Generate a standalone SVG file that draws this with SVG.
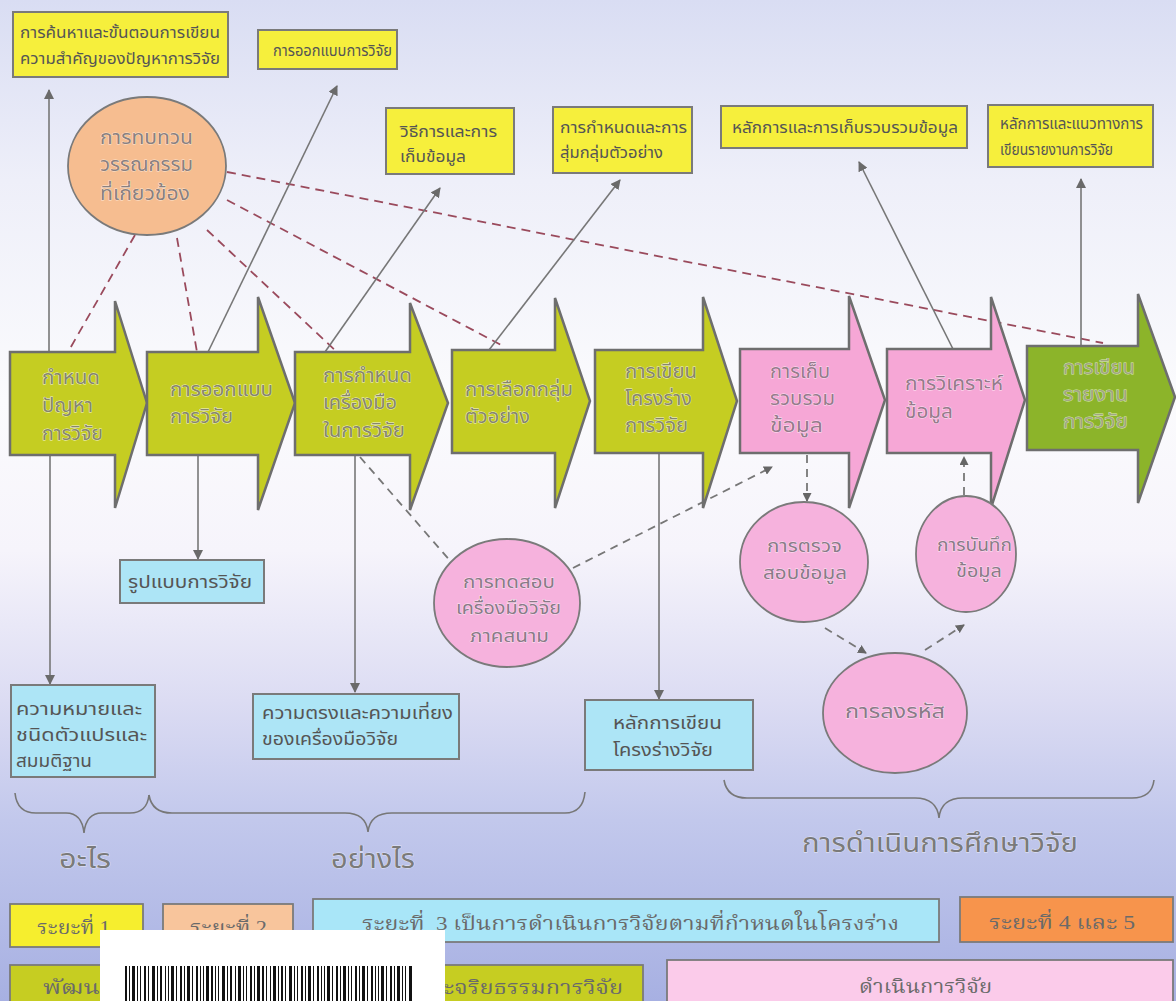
<svg xmlns="http://www.w3.org/2000/svg" width="1176" height="1001" viewBox="0 0 1176 1001">
<defs>
<linearGradient id="bg" x1="0" y1="0" x2="0" y2="1">
<stop offset="0" stop-color="#d9ddf3"/>
<stop offset="0.18" stop-color="#eeeff9"/>
<stop offset="0.4" stop-color="#fbfbfd"/>
<stop offset="0.55" stop-color="#f6f4fb"/>
<stop offset="0.7" stop-color="#dcdcf3"/>
<stop offset="0.82" stop-color="#c2c8ec"/>
<stop offset="1" stop-color="#a7b0e2"/>
</linearGradient>
<marker id="ah" markerWidth="10" markerHeight="10" refX="9" refY="5" orient="auto" markerUnits="userSpaceOnUse">
<path d="M0,0 L10,5 L0,10 z" fill="#6a6a6a"/>
</marker>
<marker id="ahs" markerWidth="9" markerHeight="9" refX="8" refY="4.5" orient="auto" markerUnits="userSpaceOnUse">
<path d="M0,0 L9,4.5 L0,9 z" fill="#666"/>
</marker>
</defs>
<style>
text{font-family:"Noto Sans Thai","Noto Sans Thai Looped","Garuda","Loma","Tlwg Typo","DejaVu Sans",sans-serif;}
.sol{stroke:#777;stroke-width:1.6;fill:none}
.red{stroke:#9a4a5c;stroke-width:1.8;fill:none;stroke-dasharray:9,6}
.gd{stroke:#777;stroke-width:1.8;fill:none;stroke-dasharray:8,6}
.yb{fill:#f6ef3c;stroke:#7a7a7a;stroke-width:2}
.bb{fill:#ade5f6;stroke:#7a7a7a;stroke-width:2}
.bt{font-size:15px;fill:#555}
.bt2{font-size:16px;fill:#555}
.arY{fill:#c5cd22;stroke:#6e6e6e;stroke-width:2.5;stroke-linejoin:miter}
.arP{fill:#f6a7d6;stroke:#6e6e6e;stroke-width:2.5}
.arG{fill:#8cb42a;stroke:#6e6e6e;stroke-width:2.5}
.at{font-size:19px;fill:#86866c;stroke:#f2f2dc;stroke-width:0.8;paint-order:stroke}
.atp{font-size:19px;fill:#967a8c;stroke:#fde6f3;stroke-width:0.8;paint-order:stroke}
.atg{font-size:19px;fill:#a2a684;stroke:#dcebb8;stroke-width:0.8;paint-order:stroke}
.cp{fill:#f6b2dd;stroke:#7a7a7a;stroke-width:1.8}
.ct{font-size:18px;fill:#8a7a88;stroke:#fde8f4;stroke-width:0.8;paint-order:stroke}
.lt{font-size:19px;fill:#8a8080;stroke:#fde8d8;stroke-width:0.8;paint-order:stroke}
.br{stroke:#777;stroke-width:1.6;fill:none}
.bl{font-size:27px;fill:#7a7a7a;stroke:#e8eaf8;stroke-width:0.8;paint-order:stroke}
.ph{font-size:19px;fill:#6a6a6a;font-family:"Liberation Serif","Noto Serif Thai","Noto Sans Thai",serif}
</style>
<rect x="0" y="0" width="1176" height="1001" fill="url(#bg)"/>

<g id="connectors">
<path class="red" d="M135,235 L68,352"/>
<path class="red" d="M177,238 L197,352"/>
<path class="red" d="M207,230 L337,352"/>
<path class="red" d="M227,200 L505,347"/>
<path class="red" d="M227,172 L1103,343"/>
<path class="sol" d="M49,352 L49,90" marker-end="url(#ah)"/>
<path class="sol" d="M208,352 L337,86" marker-end="url(#ah)"/>
<path class="sol" d="M325,352 L440,188" marker-end="url(#ah)"/>
<path class="sol" d="M489,350 L620,180" marker-end="url(#ah)"/>
<path class="sol" d="M953,349 L859,162" marker-end="url(#ah)"/>
<path class="sol" d="M1081,346 L1081,179" marker-end="url(#ah)"/>
<path class="sol" d="M50,455 L50,684" marker-end="url(#ah)"/>
<path class="sol" d="M198,455 L198,559" marker-end="url(#ah)"/>
<path class="sol" d="M355,455 L355,692" marker-end="url(#ah)"/>
<path class="sol" d="M659,453 L659,699" marker-end="url(#ah)"/>
<path class="gd" d="M360,457 L452,563"/>
<path class="gd" d="M573,568 L772,467" marker-end="url(#ahs)"/>
<path class="gd" d="M807,455 L807,501" marker-end="url(#ahs)"/>
<path class="gd" d="M825,628 L866,653" marker-end="url(#ahs)"/>
<path class="gd" d="M925,650 L964,625" marker-end="url(#ahs)"/>
<path class="gd" d="M964,495 L964,457" marker-end="url(#ahs)"/>
</g>

<g id="box-top1"><rect class="yb" x="13" y="12" width="215" height="65"/>
<text class="bt" x="20" y="38" textLength="200" lengthAdjust="spacingAndGlyphs">การค้นหาและขั้นตอนการเขียน</text>
<text class="bt" x="20" y="64" textLength="200" lengthAdjust="spacingAndGlyphs">ความสำคัญของปัญหาการวิจัย</text></g>
<g id="box-top2"><rect class="yb" x="258" y="30" width="139" height="39"/>
<text class="bt2" x="273" y="56" textLength="119" lengthAdjust="spacingAndGlyphs">การออกแบบการวิจัย</text></g>
<g id="box-top3"><rect class="yb" x="386" y="108" width="128" height="66"/>
<text class="bt2" x="400" y="137" textLength="97" lengthAdjust="spacingAndGlyphs">วิธีการและการ</text>
<text class="bt2" x="400" y="162" textLength="66" lengthAdjust="spacingAndGlyphs">เก็บข้อมูล</text></g>
<g id="box-top4"><rect class="yb" x="553" y="107" width="139" height="66"/>
<text class="bt" x="560" y="133" textLength="127" lengthAdjust="spacingAndGlyphs">การกำหนดและการ</text>
<text class="bt" x="560" y="158" textLength="103" lengthAdjust="spacingAndGlyphs">สุ่มกลุ่มตัวอย่าง</text></g>
<g id="box-top5"><rect class="yb" x="721" y="106" width="246" height="42"/>
<text class="bt2" x="732" y="133" textLength="226" lengthAdjust="spacingAndGlyphs">หลักการและการเก็บรวบรวมข้อมูล</text></g>
<g id="box-top6"><rect class="yb" x="988" y="105" width="165" height="62"/>
<text class="bt" x="1000" y="129" textLength="143" lengthAdjust="spacingAndGlyphs">หลักการและแนวทางการ</text>
<text class="bt" x="1000" y="155" textLength="113" lengthAdjust="spacingAndGlyphs">เขียนรายงานการวิจัย</text></g>

<g id="lit-review"><ellipse cx="147" cy="166" rx="79" ry="69" fill="#f6bd90" stroke="#7a7a7a" stroke-width="1.8"/>
<text class="lt" x="100" y="144" textLength="93" lengthAdjust="spacingAndGlyphs">การทบทวน</text>
<text class="lt" x="100" y="171" textLength="93" lengthAdjust="spacingAndGlyphs">วรรณกรรม</text>
<text class="lt" x="100" y="200" textLength="90" lengthAdjust="spacingAndGlyphs">ที่เกี่ยวข้อง</text></g>

<g id="step1"><path class="arY" d="M10,352 H115 V301 L147,403 L115,508 V455 H10 Z"/>
<text class="at" x="42" y="384" textLength="58" lengthAdjust="spacingAndGlyphs">กำหนด</text>
<text class="at" x="42" y="412" textLength="51" lengthAdjust="spacingAndGlyphs">ปัญหา</text>
<text class="at" x="42" y="440" textLength="61" lengthAdjust="spacingAndGlyphs">การวิจัย</text></g>
<g id="step2"><path class="arY" d="M147,352 H258 V297 L295,403 L258,510 V455 H147 Z"/>
<text class="at" x="170" y="396" textLength="103" lengthAdjust="spacingAndGlyphs">การออกแบบ</text>
<text class="at" x="170" y="423" textLength="63" lengthAdjust="spacingAndGlyphs">การวิจัย</text></g>
<g id="step3"><path class="arY" d="M295,352 H410 V303 L448,403 L410,510 V455 H295 Z"/>
<text class="at" x="323" y="382" textLength="89" lengthAdjust="spacingAndGlyphs">การกำหนด</text>
<text class="at" x="323" y="409" textLength="74" lengthAdjust="spacingAndGlyphs">เครื่องมือ</text>
<text class="at" x="323" y="437" textLength="82" lengthAdjust="spacingAndGlyphs">ในการวิจัย</text></g>
<g id="step4"><path class="arY" d="M452,350 H555 V298 L590,401 L555,508 V453 H452 Z"/>
<text class="at" x="465" y="396" textLength="108" lengthAdjust="spacingAndGlyphs">การเลือกกลุ่ม</text>
<text class="at" x="465" y="423" textLength="65" lengthAdjust="spacingAndGlyphs">ตัวอย่าง</text></g>
<g id="step5"><path class="arY" d="M595,350 H703 V297 L737,401 L703,508 V453 H595 Z"/>
<text class="at" x="625" y="378" textLength="72" lengthAdjust="spacingAndGlyphs">การเขียน</text>
<text class="at" x="625" y="405" textLength="67" lengthAdjust="spacingAndGlyphs">โครงร่าง</text>
<text class="at" x="625" y="432" textLength="63" lengthAdjust="spacingAndGlyphs">การวิจัย</text></g>
<g id="step6"><path class="arP" d="M740,349 H849 V296 L885,400 L849,508 V453 H740 Z"/>
<text class="atp" x="770" y="378" textLength="60" lengthAdjust="spacingAndGlyphs">การเก็บ</text>
<text class="atp" x="770" y="405" textLength="65" lengthAdjust="spacingAndGlyphs">รวบรวม</text>
<text class="atp" x="770" y="432" textLength="53" lengthAdjust="spacingAndGlyphs">ข้อมูล</text></g>
<g id="step7"><path class="arP" d="M887,349 H991 V297 L1025,400 L991,508 V453 H887 Z"/>
<text class="atp" x="905" y="390" textLength="98" lengthAdjust="spacingAndGlyphs">การวิเคราะห์</text>
<text class="atp" x="905" y="418" textLength="48" lengthAdjust="spacingAndGlyphs">ข้อมูล</text></g>
<g id="step8"><path class="arG" d="M1027,346 H1138 V294 L1175,397 L1138,503 V450 H1027 Z"/>
<text class="atg" x="1063" y="374" textLength="72" lengthAdjust="spacingAndGlyphs">การเขียน</text>
<text class="atg" x="1063" y="401" textLength="65" lengthAdjust="spacingAndGlyphs">รายงาน</text>
<text class="atg" x="1063" y="428" textLength="65" lengthAdjust="spacingAndGlyphs">การวิจัย</text></g>

<g id="box-design"><rect class="bb" x="120" y="560" width="144" height="43"/>
<text class="bt2" x="128" y="588" textLength="124" lengthAdjust="spacingAndGlyphs" style="font-size:17px">รูปแบบการวิจัย</text></g>
<g id="box-variables"><rect class="bb" x="11" y="685" width="144" height="92"/>
<text class="bt2" x="16" y="715" textLength="126" lengthAdjust="spacingAndGlyphs" style="font-size:17px">ความหมายและ</text>
<text class="bt2" x="16" y="741" textLength="131" lengthAdjust="spacingAndGlyphs" style="font-size:17px">ชนิดตัวแปรและ</text>
<text class="bt2" x="16" y="767" textLength="76" lengthAdjust="spacingAndGlyphs" style="font-size:17px">สมมติฐาน</text></g>
<g id="box-validity"><rect class="bb" x="253" y="694" width="206" height="65"/>
<text class="bt2" x="262" y="719" textLength="191" lengthAdjust="spacingAndGlyphs" style="font-size:17px">ความตรงและความเที่ยง</text>
<text class="bt2" x="262" y="745" textLength="136" lengthAdjust="spacingAndGlyphs" style="font-size:17px">ของเครื่องมือวิจัย</text></g>
<g id="box-proposal"><rect class="bb" x="585" y="700" width="168" height="70"/>
<text class="bt2" x="613" y="729" textLength="109" lengthAdjust="spacingAndGlyphs" style="font-size:17px">หลักการเขียน</text>
<text class="bt2" x="613" y="756" textLength="100" lengthAdjust="spacingAndGlyphs" style="font-size:17px">โครงร่างวิจัย</text></g>

<g id="circle-pilot"><ellipse class="cp" cx="507" cy="603" rx="73" ry="64"/>
<text class="ct" x="463" y="588" textLength="92" lengthAdjust="spacingAndGlyphs">การทดสอบ</text>
<text class="ct" x="456" y="614" textLength="105" lengthAdjust="spacingAndGlyphs">เครื่องมือวิจัย</text>
<text class="ct" x="470" y="642" textLength="79" lengthAdjust="spacingAndGlyphs">ภาคสนาม</text></g>
<g id="circle-check"><ellipse class="cp" cx="804" cy="562" rx="64" ry="60"/>
<text class="ct" x="767" y="552" textLength="75" lengthAdjust="spacingAndGlyphs">การตรวจ</text>
<text class="ct" x="763" y="579" textLength="84" lengthAdjust="spacingAndGlyphs">สอบข้อมูล</text></g>
<g id="circle-record"><ellipse class="cp" cx="966" cy="554" rx="50" ry="58"/>
<text class="ct" x="937" y="551" textLength="75" lengthAdjust="spacingAndGlyphs" style="font-size:17px">การบันทึก</text>
<text class="ct" x="956" y="577" textLength="46" lengthAdjust="spacingAndGlyphs" style="font-size:17px">ข้อมูล</text></g>
<g id="circle-coding"><ellipse class="cp" cx="895" cy="713" rx="72" ry="60"/>
<text class="ct" x="845" y="718" textLength="100" lengthAdjust="spacingAndGlyphs" style="font-size:19px">การลงรหัส</text></g>

<g id="braces">
<path class="br" d="M15,793 Q17,813 36,813 L66,813 Q82,813 84,833 Q86,813 102,813 L130,813 Q147,813 149,795"/>
<path class="br" d="M149,795 Q152,813 172,813 L345,813 Q366,813 368,832 Q370,813 392,813 L565,813 Q583,813 585,792"/>
<path class="br" d="M724,780 Q727,798 747,798 L915,798 Q937,798 939,818 Q941,798 963,798 L1132,798 Q1152,798 1154,780"/>
<text class="bl" x="59" y="868" textLength="52" lengthAdjust="spacingAndGlyphs">อะไร</text>
<text class="bl" x="331" y="868" textLength="84" lengthAdjust="spacingAndGlyphs">อย่างไร</text>
<text class="bl" x="802" y="852" textLength="276" lengthAdjust="spacingAndGlyphs">การดำเนินการศึกษาวิจัย</text>
</g>

<g id="phase1"><rect x="10" y="904" width="133" height="43" fill="#f6ee2e" stroke="#7a7a7a" stroke-width="1.8"/>
<text class="ph" x="37" y="934" textLength="73" lengthAdjust="spacingAndGlyphs">ระยะที่ 1</text></g>
<g id="phase2"><rect x="163" y="904" width="130" height="43" fill="#f8c59c" stroke="#7a7a7a" stroke-width="1.8"/>
<text class="ph" x="190" y="934" textLength="77" lengthAdjust="spacingAndGlyphs">ระยะที่ 2</text></g>
<g id="phase3"><rect x="313" y="899" width="626" height="43" fill="#a9e6f8" stroke="#7a7a7a" stroke-width="1.8"/>
<text class="ph" x="362" y="930" textLength="537" lengthAdjust="spacingAndGlyphs" xml:space="preserve">ระยะที่  3 เป็นการดำเนินการวิจัยตามที่กำหนดในโครงร่าง</text></g>
<g id="phase45"><rect x="960" y="897" width="213" height="45" fill="#f7944c" stroke="#7a7a7a" stroke-width="1.8"/>
<text class="ph" x="989" y="929" textLength="146" lengthAdjust="spacingAndGlyphs">ระยะที่ 4 และ 5</text></g>
<g id="row2-develop"><rect x="10" y="965" width="633" height="40" fill="#c6cd22" stroke="#7a7a7a" stroke-width="1.8"/>
<text class="ph" x="43" y="994" textLength="57" lengthAdjust="spacingAndGlyphs">พัฒน</text>
<text class="ph" x="443" y="994" textLength="180" lengthAdjust="spacingAndGlyphs">ะจริยธรรมการวิจัย</text></g>
<g id="row2-conduct"><rect x="667" y="960" width="506" height="45" fill="#fbcbea" stroke="#7a7a7a" stroke-width="1.8"/>
<text class="ph" x="859" y="993" textLength="133" lengthAdjust="spacingAndGlyphs">ดำเนินการวิจัย</text></g>

<g id="barcode">
<rect x="100" y="930" width="345" height="71" fill="#ffffff"/>
<path fill="#111" d="M125,966h2v35h-2z M129,966h1v35h-1z M132,966h3v35h-3z M137,966h1v35h-1z M140,966h1v35h-1z M144,966h2v35h-2z M148,966h1v35h-1z M152,966h3v35h-3z M157,966h1v35h-1z M160,966h2v35h-2z M165,966h1v35h-1z M168,966h1v35h-1z M171,966h3v35h-3z M176,966h1v35h-1z M180,966h2v35h-2z M184,966h1v35h-1z M187,966h3v35h-3z M192,966h1v35h-1z M196,966h2v35h-2z M200,966h1v35h-1z M203,966h1v35h-1z M206,966h3v35h-3z M211,966h2v35h-2z M215,966h1v35h-1z M218,966h1v35h-1z M222,966h3v35h-3z M227,966h1v35h-1z M230,966h2v35h-2z M235,966h1v35h-1z M238,966h3v35h-3z M243,966h1v35h-1z M246,966h1v35h-1z M250,966h2v35h-2z M254,966h1v35h-1z M257,966h3v35h-3z M262,966h2v35h-2z M266,966h1v35h-1z M270,966h1v35h-1z M273,966h3v35h-3z M278,966h1v35h-1z M281,966h2v35h-2z M285,966h1v35h-1z M289,966h3v35h-3z M294,966h1v35h-1z M297,966h1v35h-1z M301,966h2v35h-2z M305,966h1v35h-1z M308,966h3v35h-3z M313,966h1v35h-1z M317,966h2v35h-2z M321,966h1v35h-1z M324,966h1v35h-1z M327,966h3v35h-3z M332,966h1v35h-1z M336,966h2v35h-2z M340,966h1v35h-1z M343,966h3v35h-3z M348,966h1v35h-1z M351,966h1v35h-1z M355,966h2v35h-2z M359,966h1v35h-1z M362,966h3v35h-3z M367,966h1v35h-1z M371,966h2v35h-2z M375,966h1v35h-1z M378,966h1v35h-1z M381,966h3v35h-3z M386,966h1v35h-1z M390,966h2v35h-2z M394,966h1v35h-1z M397,966h3v35h-3z M402,966h1v35h-1z M405,966h1v35h-1z M409,966h3v35h-3z"/>
</g>
</svg>
